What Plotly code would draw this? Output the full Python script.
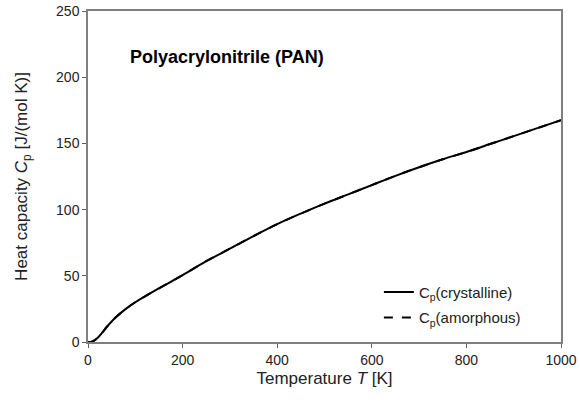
import plotly.graph_objects as go

T = [0, 10, 20, 30, 40, 50, 60, 80, 100, 150, 200, 250, 300, 350, 400, 450, 500,
     550, 600, 650, 700, 750, 800, 850, 900, 950, 1000]
cp_cryst = [0, 0.5, 3, 7, 11.5, 15.5, 19, 25, 30, 40.5, 50.5, 61, 70.5, 80, 89, 97, 104.5,
            111.5, 118.5, 125.5, 132, 138, 143.5, 149.5, 155.5, 161.5, 167.5]
cp_amorph = cp_cryst[:]
x_ticks = [0, 200, 400, 600, 800, 1000]
y_ticks = [0, 50, 100, 150, 200, 250]

font = "Liberation Sans, Arial, sans-serif"
fig = go.Figure()
fig.add_trace(go.Scatter(x=T, y=cp_cryst, mode="lines", line=dict(color="black", width=2, shape="spline"),
                         name="C<sub>p</sub>(crystalline)", legendgroup="a"))
fig.add_trace(go.Scatter(x=T, y=cp_amorph, mode="lines", line=dict(color="black", width=2, dash="dash", shape="spline"),
                         name="C<sub>p</sub>(amorphous)", legendgroup="b"))

axis_common = dict(showgrid=False, zeroline=False, showline=True, linecolor="#808080", linewidth=1.5,
                   mirror=True, ticks="outside", ticklen=4, tickcolor="#606060", automargin=False,
                   tickfont=dict(family=font, size=14, color="#222"))
fig.update_xaxes(range=[0, 1000], tickvals=x_ticks, title=dict(text="Temperature <i>T</i> [K]",
                 font=dict(family=font, size=17, color="#222"), standoff=6), **axis_common)
fig.update_yaxes(range=[0, 250], tickvals=y_ticks, title=dict(text="Heat capacity <i>C</i><sub>p</sub> [J/(mol K)]",
                 font=dict(family=font, size=17, color="#222"), standoff=24), **axis_common)

fig.add_annotation(x=0.085, y=0.861, xref="paper", yref="paper", xanchor="left", yanchor="middle",
                   text="<b>Polyacrylonitrile (PAN)</b>", showarrow=False,
                   font=dict(family=font, size=18, color="black"))

fig.update_layout(width=580, height=408, margin=dict(l=88, r=19, t=11, b=66),
                  plot_bgcolor="white", paper_bgcolor="white",
                  legend=dict(x=0.615, y=0.2, xanchor="left", yanchor="top", bgcolor="rgba(0,0,0,0)",
                              font=dict(family=font, size=15, color="#222"), tracegroupgap=3,
                              traceorder="grouped", itemwidth=30))
fig.write_html("out.html", config={"displayModeBar": False},
               post_script="document.body.style.margin='0';document.body.style.overflow='hidden';")
